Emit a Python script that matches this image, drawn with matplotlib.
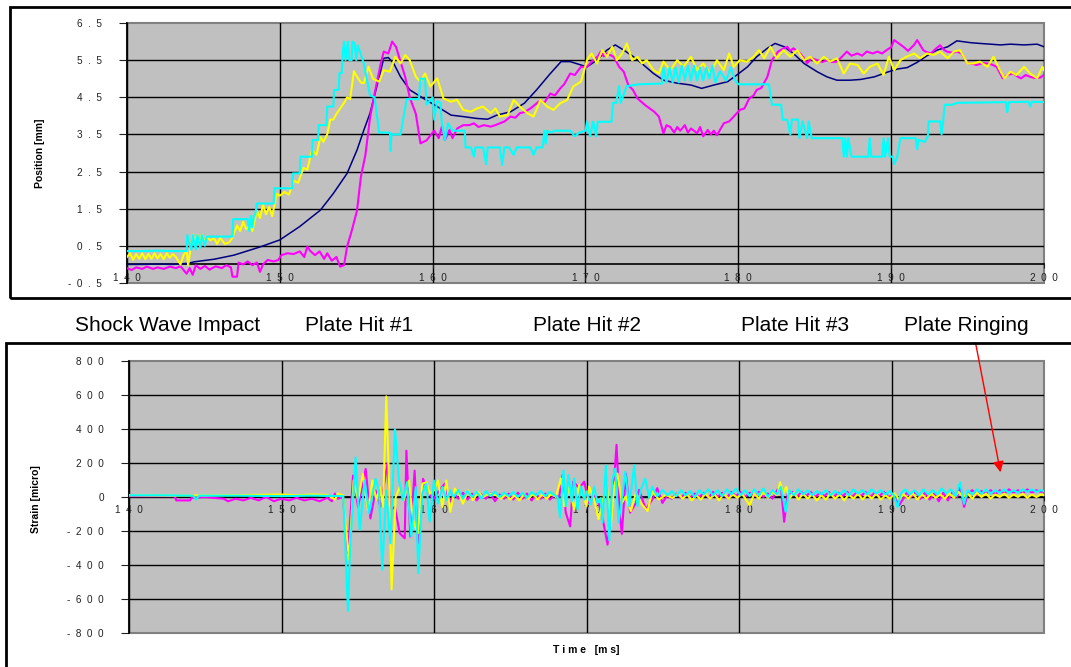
import numpy as np
import matplotlib
matplotlib.use('Agg')
import matplotlib.pyplot as plt
from matplotlib.patches import Rectangle
from matplotlib.ticker import FuncFormatter

plt.rcParams['font.family'] = ['Liberation Sans', 'DejaVu Sans']

# ---- position traces [mm] vs time [ms] ----
navy_t = [140, 141, 142, 143, 144, 144.4, 145.7, 147.0, 148.7, 150.0,
          151.3, 152.65, 153.5, 154.4, 155.05, 155.5, 155.9, 156.4, 156.8, 157.1,
          157.45, 157.9, 158.5, 159.4, 160.3, 161.2, 162.0, 162.9, 163.6, 164.2,
          165.1, 166.0, 166.8, 167.7, 168.4, 169.0, 169.7, 170.1, 170.75, 171.4,
          171.95, 172.5, 173.15, 173.8, 174.45, 175.1, 176.0, 176.9, 177.6, 178.4,
          179.3, 179.9, 180.6, 181.2, 181.9, 182.4, 183.0, 183.6, 184.3, 185.15,
          185.8, 186.45, 187.3, 188.0, 188.9, 189.7, 190.4, 191.05, 191.7, 192.35,
          193.0, 193.7, 194.3, 195.2, 195.8, 196.5, 197.15, 197.8, 198.7, 199.55, 200]
navy_v = [0.0, 0.0, 0.01, 0.0, 0.03, 0.07, 0.14, 0.25, 0.47, 0.66,
          1.02, 1.46, 1.91, 2.45, 3.08, 3.62, 4.07, 4.88, 5.55, 5.57,
          5.41, 5.05, 4.70, 4.47, 4.25, 4.02, 3.98, 3.93, 3.91, 4.02,
          4.11, 4.34, 4.70, 5.14, 5.46, 5.46, 5.37, 5.32, 5.50, 5.77,
          5.91, 5.77, 5.59, 5.37, 5.14, 4.96, 4.88, 4.83, 4.74, 4.83,
          4.92, 5.10, 5.32, 5.59, 5.82, 5.95, 5.86, 5.68, 5.41, 5.19,
          5.05, 4.96, 4.96, 4.98, 5.05, 5.17, 5.26, 5.30, 5.44, 5.62,
          5.77, 5.86, 6.02, 5.97, 5.95, 5.93, 5.91, 5.93, 5.91, 5.93, 5.86]

mag_t = [140, 140.3, 140.6, 141, 141.3, 141.7, 142, 142.4, 142.8, 143.2,
         143.5, 143.9, 144.1, 144.3, 144.5, 144.8, 145.1, 145.4, 145.8, 146.2,
         146.5, 146.8, 146.9, 147.2, 147.3, 147.6, 147.9, 148.2, 148.5, 148.7,
         148.9, 149.2, 149.6, 149.9, 150.1, 150.5, 150.9, 151.3, 151.6, 151.8,
         152.0, 152.3, 152.6, 152.9, 153.1, 153.4, 153.7, 153.95, 154.2, 154.4,
         154.7, 155.05, 155.3, 155.6, 155.9, 156.25, 156.6, 156.8, 157.1, 157.35,
         157.6, 157.9, 158.2, 158.5, 158.9, 159.2, 159.6, 160.1, 160.4, 160.6,
         160.8, 161.1, 161.3, 161.6, 162.0, 162.4, 162.7, 163.0, 163.35, 163.8,
         164.1, 164.4, 164.7, 165.1, 165.4, 165.7, 166.0, 166.4, 166.7, 167.05,
         167.3, 167.7, 168.0, 168.35, 168.6, 169.0, 169.3, 169.7, 170.1, 170.5,
         170.8, 171.0, 171.2, 171.4, 171.85, 172.2, 172.5, 172.8, 173.1, 173.4,
         173.9, 174.2, 174.5, 174.8, 175.1, 175.3, 175.55, 175.8, 176.0, 176.2,
         176.5, 176.7, 176.9, 177.1, 177.3, 177.5, 177.7, 178.0, 178.2, 178.4,
         178.6, 179.05, 179.4, 179.7, 180.1, 180.4, 180.7, 181.0, 181.2, 181.5,
         181.9, 182.2, 182.6, 182.9, 183.2, 183.4, 183.6, 184.05, 184.3, 184.5,
         184.8, 185.15, 185.5, 185.8, 186.1, 186.45, 186.8, 187.1, 187.4, 187.8,
         188.1, 188.4, 188.8, 189.1, 189.4, 189.7, 190.0, 190.2, 190.5, 190.8,
         191.1, 191.5, 191.7, 192.1, 192.3, 192.6, 192.9, 193.2, 193.45, 193.65,
         194.0, 194.3, 194.6, 195.0, 195.3, 195.6, 196.0, 196.3, 196.6, 196.9,
         197.3, 197.6, 198.0, 198.3, 198.5, 198.8, 199.1, 199.4, 199.75, 200]
mag_v = [-0.10, -0.15, -0.08, -0.12, -0.06, -0.12, -0.08, -0.12, -0.06, -0.10,
         -0.05, -0.25, -0.10, -0.28, -0.02, -0.12, -0.04, -0.14, -0.05, -0.10,
         -0.02, -0.08, -0.33, -0.33, 0.05, 0.00, 0.08, -0.02, 0.05, -0.20,
         0.00, 0.12, 0.08, 0.12, 0.25, 0.30, 0.28, 0.35, 0.20, 0.48,
         0.36, 0.25, 0.35, 0.15, 0.30, 0.10, 0.20, -0.06, -0.02, 0.48,
         0.90, 1.45, 2.35, 2.95, 3.95, 4.70, 5.40, 5.73, 5.68, 6.00,
         5.86, 5.46, 5.05, 4.50, 4.05, 3.26, 3.34, 3.60, 3.40, 3.71,
         3.35, 3.62, 3.40, 3.66, 3.75, 3.75, 3.80, 3.70, 3.75, 3.71,
         3.75, 3.80, 3.85, 3.98, 3.95, 4.07, 4.10, 4.20, 4.30, 4.42,
         4.35, 4.60, 4.55, 4.74, 4.85, 5.14, 5.10, 5.32, 5.32, 5.50,
         5.60, 5.73, 5.60, 5.68, 5.59, 5.32, 5.19, 4.83, 4.70, 4.47,
         4.29, 4.20, 4.11, 3.98, 3.53, 3.75, 3.70, 3.55, 3.70, 3.60,
         3.75, 3.55, 3.66, 3.60, 3.53, 3.70, 3.45, 3.62, 3.50, 3.60,
         3.48, 3.80, 3.85, 3.98, 4.16, 4.20, 4.46, 4.55, 4.70, 4.75,
         5.05, 5.50, 5.73, 5.80, 5.86, 5.75, 5.82, 5.68, 5.55, 5.42,
         5.55, 5.50, 5.45, 5.50, 5.45, 5.46, 5.60, 5.73, 5.62, 5.68,
         5.62, 5.73, 5.68, 5.73, 5.68, 5.77, 5.85, 6.04, 5.95, 5.86,
         5.75, 5.91, 6.04, 5.77, 5.72, 5.68, 5.80, 5.90, 5.78, 5.73,
         5.70, 5.73, 5.68, 5.42, 5.40, 5.37, 5.42, 5.41, 5.38, 5.32,
         5.01, 5.10, 5.14, 5.05, 5.01, 5.10, 5.05, 5.02, 5.03, 5.10]

yel_t = [140, 140.2, 140.4, 140.6, 140.8, 141.0, 141.2, 141.4, 141.6, 141.8,
         142.0, 142.2, 142.4, 142.6, 142.8, 143.0, 143.2, 143.5, 143.7, 143.9,
         144.0, 144.15, 144.3, 144.45, 144.6, 144.75, 144.9, 145.05, 145.2, 145.45,
         145.7, 145.9, 146.1, 146.4, 146.7, 146.9, 147.2, 147.4, 147.6, 147.8,
         148.0, 148.2, 148.5, 148.7, 148.9, 149.1, 149.3, 149.5, 149.8, 150.0,
         150.3, 150.6, 150.9, 151.2, 151.55, 151.8, 152.1, 152.4, 152.65, 152.85,
         153.1, 153.3, 153.5, 153.7, 153.95, 154.2, 154.4, 154.6, 154.85, 155.05,
         155.3, 155.5, 155.8, 156.1, 156.5, 156.8, 157.2, 157.55, 157.9, 158.2,
         158.5, 158.9, 159.2, 159.5, 159.85, 160.3, 160.7, 161.2, 161.6, 162.0,
         162.5, 162.9, 163.3, 163.8, 164.1, 164.4, 164.9, 165.3, 165.7, 166.2,
         166.6, 167.05, 167.5, 167.9, 168.35, 168.8, 169.2, 169.7, 170.1, 170.4,
         170.75, 171.1, 171.4, 171.75, 172.05, 172.4, 172.7, 173.05, 173.4, 173.7,
         174.0, 174.45, 174.8, 175.1, 175.55, 176.0, 176.4, 176.9, 177.3, 177.7,
         178.15, 178.6, 179.05, 179.4, 179.7, 180.1, 180.55, 181.0, 181.35, 181.7,
         182.1, 182.5, 182.95, 183.4, 183.85, 184.3, 184.7, 185.15, 185.6, 186.0,
         186.45, 186.9, 187.3, 187.8, 188.2, 188.6, 189.1, 189.5, 189.85, 190.2,
         190.6, 191.0, 191.5, 191.9, 192.35, 192.8, 193.2, 193.7, 194.1, 194.5,
         195.0, 195.4, 195.8, 196.3, 196.7, 197.05, 197.4, 197.8, 198.2, 198.7,
         199.1, 199.55, 199.9, 200]
yel_v = [0.20, 0.30, 0.12, 0.28, 0.15, 0.30, 0.14, 0.28, 0.15, 0.30,
         0.16, 0.28, 0.14, 0.30, 0.18, 0.28, 0.20, 0.00, 0.25, 0.38,
         -0.02, 0.40, 0.80, 0.55, 0.80, 0.55, 0.80, 0.60, 0.75, 0.65,
         0.70, 0.55, 0.72, 0.55, 0.60, 0.72, 1.05, 0.90, 1.15, 0.95,
         1.05, 0.90, 1.45, 1.25, 1.60, 1.35, 1.55, 1.30, 1.90, 1.85,
         1.95, 1.88, 2.25, 2.20, 2.60, 2.55, 3.08, 2.95, 3.43, 3.30,
         3.50, 3.90, 3.90, 4.05, 4.20, 4.35, 4.50, 4.45, 5.20, 5.05,
         4.90, 4.88, 5.32, 5.00, 4.92, 5.23, 5.19, 5.59, 5.41, 5.64,
         5.50, 5.05, 4.92, 5.14, 4.79, 5.01, 4.47, 4.38, 4.43, 4.16,
         4.11, 4.20, 4.25, 4.07, 4.20, 3.98, 4.02, 4.43, 4.25, 4.07,
         3.98, 4.43, 4.25, 4.16, 4.34, 4.43, 4.79, 4.92, 5.50, 5.68,
         5.41, 5.77, 5.59, 5.86, 5.50, 5.68, 5.95, 5.50, 5.59, 5.41,
         5.50, 5.23, 5.14, 5.46, 5.23, 5.50, 5.32, 5.59, 5.23, 5.41,
         5.14, 5.50, 5.23, 5.68, 5.32, 5.50, 5.46, 5.59, 5.77, 5.55,
         5.86, 5.55, 5.77, 5.59, 5.77, 5.50, 5.59, 5.41, 5.59, 5.46,
         5.55, 5.14, 5.41, 5.37, 5.14, 5.32, 5.41, 5.10, 5.59, 5.23,
         5.50, 5.59, 5.68, 5.55, 5.68, 5.64, 5.73, 5.55, 5.73, 5.77,
         5.41, 5.41, 5.46, 5.32, 5.59, 5.28, 5.01, 5.19, 5.10, 5.32,
         5.14, 5.01, 5.32, 5.23]

cyan_t = [140, 141, 142, 143, 143.9, 143.95, 144.2, 144.3, 144.5, 144.6,
          144.8, 144.9, 145.1, 145.2, 146.0, 146.9, 146.95, 147.5, 147.9, 148.0,
          148.1, 148.2, 148.3, 148.4, 148.5, 149.6, 149.65, 150.8, 150.85, 151.3,
          151.35, 152.1, 152.15, 152.5, 152.55, 153.05, 153.1, 153.5, 153.55, 153.85,
          153.9, 154.05, 154.1, 154.2, 154.3, 154.45, 154.55, 154.7, 154.75, 154.9,
          155.0, 155.1, 155.5, 155.9, 156.2, 156.5, 157.2, 157.25, 157.3, 157.9,
          158.3, 159.1, 159.2, 159.5, 159.6, 160.0, 160.1, 160.3, 160.5, 160.6,
          160.8, 161.0, 161.3, 162.1, 162.15, 162.5, 162.7, 162.8, 163.3, 163.5,
          163.6, 164.4, 164.55, 164.7, 165.0, 165.3, 165.5, 166.0, 166.4, 166.6,
          166.8, 167.2, 167.3, 167.4, 167.5, 167.7, 168.0, 169.0, 169.3, 169.6,
          170.0, 170.1, 170.3, 170.5, 170.7, 170.8, 171.7, 171.8, 172.0, 172.2,
          172.3, 172.7, 173.5, 175.0, 175.1, 175.3, 175.5, 175.7, 175.9, 176.1,
          176.3, 176.5, 176.7, 176.9, 177.1, 177.3, 177.5, 177.7, 177.9, 178.1,
          178.3, 178.5, 178.8, 179.2, 179.5, 179.8, 180.0, 182.0, 182.2, 182.8,
          182.9, 183.2, 183.4, 183.5, 183.9, 184.0, 184.2, 184.5, 184.6, 184.8,
          185.2, 186.8, 186.9, 187.0, 187.1, 187.2, 187.4, 188.5, 188.6, 188.7,
          189.4, 189.5, 189.6, 189.8, 189.9, 190.1, 190.2, 190.4, 190.6, 191.6,
          191.7, 191.8, 192.2, 192.4, 192.45, 193.2, 193.3, 193.4, 193.5, 194.0,
          194.3, 197.5, 197.6, 197.7, 199.0, 199.1, 199.2, 200]
cyan_v = [0.36, 0.36, 0.37, 0.36, 0.36, 0.79, 0.39, 0.79, 0.40, 0.79,
          0.45, 0.79, 0.50, 0.75, 0.75, 0.75, 1.22, 1.22, 1.22, 0.90,
          1.30, 1.00, 1.30, 1.35, 1.64, 1.64, 2.05, 2.05, 2.45, 2.45,
          2.90, 2.90, 3.35, 3.35, 3.75, 3.75, 4.25, 4.25, 4.70, 4.70,
          5.15, 5.15, 5.60, 6.00, 5.50, 6.00, 5.50, 5.50, 6.00, 5.95,
          5.50, 5.90, 5.40, 4.55, 4.50, 3.55, 3.55, 3.05, 3.50, 3.50,
          4.45, 4.45, 5.00, 5.00, 4.30, 4.50, 3.90, 4.40, 4.35, 3.80,
          3.35, 3.80, 3.60, 3.60, 3.15, 3.15, 2.90, 3.15, 3.15, 2.70,
          3.15, 3.15, 2.68, 3.15, 3.15, 2.95, 3.15, 3.15, 3.15, 2.95,
          3.15, 3.15, 3.60, 3.25, 3.60, 3.55, 3.60, 3.60, 3.45, 3.55,
          3.60, 3.85, 3.45, 3.85, 3.45, 3.84, 3.84, 4.35, 4.35, 4.80,
          4.35, 4.80, 4.85, 4.87, 5.30, 4.90, 5.30, 4.90, 5.30, 4.90,
          5.35, 4.95, 5.35, 4.95, 5.35, 4.95, 5.30, 4.95, 5.30, 5.00,
          5.35, 4.90, 5.20, 4.95, 5.30, 4.95, 4.85, 4.85, 4.30, 4.30,
          3.90, 3.90, 3.50, 3.90, 3.90, 3.40, 3.85, 3.40, 3.85, 3.40,
          3.40, 3.40, 2.90, 3.40, 2.90, 3.40, 2.90, 2.90, 3.40, 2.90,
          2.90, 3.40, 2.90, 3.40, 2.90, 2.90, 2.70, 2.90, 3.40, 3.40,
          3.10, 3.35, 3.30, 3.45, 3.85, 3.85, 3.50, 3.85, 4.30, 4.30,
          4.35, 4.37, 4.10, 4.37, 4.38, 4.25, 4.38, 4.37]

# ---- strain traces [micro] vs time [ms] ----
smag_t = [140, 142, 143.0, 143.1, 144.0, 144.1, 145, 145.5, 146.2, 146.5,
          147, 147.5, 148, 148.5, 149, 149.5, 150, 150.5, 151, 151.5,
          152, 152.5, 153, 153.3, 153.5, 153.7, 154.03, 154.36, 154.69, 155.02,
          155.52, 155.83, 156.17, 156.48, 156.77, 156.95, 157.14, 157.44, 157.75, 158.08,
          158.19, 158.45, 158.73, 158.95, 159.28, 159.61, 159.93, 160.26, 160.70, 161.03,
          161.3, 161.6, 161.9, 162.2, 162.5, 162.8, 163.1, 163.4, 163.7, 164.0,
          164.3, 164.6, 164.9, 165.2, 165.5, 165.8, 166.1, 166.4, 166.7, 167.0,
          167.3, 167.6, 167.9, 168.21, 168.43, 168.64, 168.93, 169.13, 169.52, 169.85,
          170.17, 170.50, 170.83, 171.07, 171.38, 171.60, 171.81, 171.97, 172.19, 172.32,
          172.58, 172.86, 173.24, 173.45, 173.89, 174.31, 174.64, 174.98, 175.3, 175.6,
          175.9, 176.2, 176.5, 176.8, 177.1, 177.4, 177.7, 178.0, 178.3, 178.6,
          178.9, 179.2, 179.5, 179.8, 180.1, 180.4, 180.7, 181.0, 181.3, 181.6,
          181.9, 182.2, 182.5, 182.75, 182.96, 183.2, 183.5, 183.8, 184.1, 184.4,
          184.7, 185.0, 185.3, 185.6, 185.9, 186.2, 186.5, 186.8, 187.1, 187.4,
          187.7, 188.0, 188.3, 188.6, 188.9, 189.2, 189.5, 189.8, 190.1, 190.5,
          190.7, 191.0, 191.3, 191.6, 191.9, 192.2, 192.5, 192.8, 193.1, 193.4,
          193.7, 194.0, 194.3, 194.5, 194.76, 195.0, 195.3, 195.6, 195.9, 196.2,
          196.5, 196.8, 197.1, 197.4, 197.7, 198.0, 198.3, 198.6, 198.9, 199.2,
          199.5, 199.8, 200]
smag_v = [5, 5, 5, -20, -20, -5, 0, -5, -10, -25,
          -10, -20, -5, -20, 0, -25, -10, -20, -5, -20,
          -10, -25, -5, -25, 20, -10, 0, -330, 126, -58,
          165, -126, 39, -58, 97, 200, -78, -58, -213, -243,
          272, -233, 155, -272, 107, 39, -19, 29, 78, -29,
          20, -10, 25, -15, 20, -20, 15, -10, 20, -25,
          15, -10, 20, -15, 25, -10, 20, -20, 15, -10,
          20, -15, 10, 0, 129, -92, -173, 90, 52, 90,
          -35, 4, -44, -131, -280, -111, 100, 307, -111, -217,
          138, -92, -35, 42, -73, -15, 52, -35, 10, -10,
          20, -5, 25, -5, 20, 0, 25, -5, 30, 0,
          25, -5, 30, 5, 30, 0, 25, 5, 30, 0,
          20, -10, 40, 60, -146, 20, 30, 0, 30, 5,
          30, 0, 25, 5, 30, 0, 25, 5, 30, 0,
          25, 5, 30, 0, 25, 5, 30, 0, 10, -48,
          -20, 25, 0, 30, -10, 25, -15, 20, -25, 25,
          -20, 30, 0, 60, -58, 20, 40, 10, 35, 20,
          40, 15, 40, 20, 45, 25, 40, 20, 45, 25,
          40, 30, 35]

syel_t = [140, 143, 146, 148, 150, 151, 152, 153, 153.5, 153.7,
          154.03, 154.43, 154.73, 155.02, 155.34, 155.67, 155.96, 156.22, 156.44, 156.66,
          156.87, 157.05, 157.22, 157.49, 157.75, 158.01, 158.36, 158.62, 158.95, 159.23,
          159.50, 159.72, 160.0, 160.26, 160.55, 160.81, 161.07, 161.36, 161.64, 161.90,
          162.23, 162.56, 162.89, 163.21, 163.65, 164.09, 164.4, 164.7, 165.0, 165.3,
          165.6, 165.9, 166.2, 166.5, 166.8, 167.1, 167.4, 167.7, 167.99, 168.32,
          168.54, 168.86, 169.19, 169.52, 169.85, 170.0, 170.17, 170.50, 170.79, 171.05,
          171.31, 171.60, 171.81, 172.03, 172.32, 172.58, 172.91, 173.24, 173.56, 174.00,
          174.31, 174.75, 175.20, 175.64, 176.0, 176.3, 176.6, 176.9, 177.2, 177.5,
          177.8, 178.1, 178.4, 178.7, 179.0, 179.3, 179.6, 179.9, 180.2, 180.45,
          180.7, 181.0, 181.3, 181.6, 181.9, 182.2, 182.5, 182.7, 182.9, 183.1,
          183.3, 183.6, 183.9, 184.2, 184.5, 184.8, 185.1, 185.4, 185.7, 186.0,
          186.3, 186.6, 186.9, 187.2, 187.5, 187.8, 188.1, 188.4, 188.7, 189.0,
          189.3, 189.6, 189.9, 190.2, 190.5, 190.8, 191.1, 191.4, 191.7, 192.0,
          192.3, 192.6, 192.9, 193.2, 193.5, 193.8, 194.1, 194.4, 194.7, 195.0,
          195.3, 195.6, 195.9, 196.2, 196.5, 196.8, 197.1, 197.4, 197.7, 198.0,
          198.3, 198.6, 198.9, 199.2, 199.5, 199.8, 200]
syel_v = [10, 8, 10, 12, 15, 10, 15, 12, -15, 20,
          10, -369, 97, -19, 136, -78, 97, -19, 58, -58,
          592, 97, -543, 0, 58, -19, 97, -136, -213, 78,
          87, 19, 39, 97, -58, 97, -87, 49, 19, -39,
          39, -19, 29, 0, 19, 10, -10, 15, -15, 10,
          -20, 15, -10, 20, -15, 15, -10, 20, 0, 109,
          -54, 61, -73, 71, -6, -54, 61, -15, -131, -35,
          90, -169, 61, 138, -35, 4, -83, 23, -35, -83,
          33, -15, 13, -6, 20, -10, 15, -20, 10, -15,
          20, -10, 15, -20, 20, -10, 15, -5, 20, -15,
          -48, 20, -10, 30, -5, 30, 10, 87, 20, 60,
          -10, 25, -15, 20, -10, 15, -20, 10, -15, 20,
          -10, 15, -20, 15, -10, 20, -15, 15, -10, 20,
          -15, 10, -10, 20, -15, 15, -10, 20, -15, 15,
          -10, 20, -5, 15, -10, 20, -5, 30, 0, 20,
          -10, 25, 0, 20, -10, 15, 0, 20, -5, 15,
          0, 20, -5, 15, 0, 15, 10]

scyan_t = [140, 142, 144.2, 144.4, 144.6, 147, 150, 152, 154.05, 154.36,
           154.5, 154.86, 155.13, 155.45, 155.74, 156.17, 156.39, 156.61, 156.87, 157.14,
           157.44, 157.70, 157.97, 158.23, 158.51, 158.80, 158.97, 159.23, 159.50, 159.72,
           160.0, 160.26, 160.55, 160.81, 161.07, 161.3, 161.6, 161.9, 162.2, 162.5,
           162.8, 163.1, 163.4, 163.7, 164.0, 164.3, 164.6, 164.9, 165.2, 165.5,
           165.8, 166.1, 166.4, 166.7, 167.0, 167.3, 167.6, 167.9, 168.10, 168.27,
           168.49, 168.64, 168.82, 169.04, 169.19, 169.41, 169.63, 169.85, 170.0, 170.28,
           170.50, 170.72, 170.94, 171.05, 171.27, 171.49, 171.70, 171.88, 172.10, 172.40,
           172.54, 172.80, 173.13, 173.34, 173.56, 173.85, 174.11, 174.31, 174.64, 174.98,
           175.3, 175.6, 175.9, 176.2, 176.5, 176.8, 177.1, 177.4, 177.7, 178.0,
           178.3, 178.6, 178.9, 179.2, 179.5, 179.8, 180.1, 180.4, 180.7, 181.0,
           181.3, 181.6, 181.9, 182.2, 182.5, 182.75, 183.06, 183.3, 183.6, 183.9,
           184.2, 184.5, 184.8, 185.1, 185.4, 185.7, 186.0, 186.3, 186.6, 186.9,
           187.2, 187.5, 187.8, 188.1, 188.4, 188.7, 189.0, 189.3, 189.6, 189.9,
           190.15, 190.4, 190.6, 190.9, 191.2, 191.5, 191.8, 192.1, 192.4, 192.7,
           193.0, 193.3, 193.6, 193.9, 194.2, 194.5, 194.75, 195.0, 195.3, 195.6,
           195.9, 196.2, 196.5, 196.8, 197.1, 197.4, 197.7, 198.0, 198.3, 198.6,
           198.9, 199.2, 199.5, 199.8, 200]
scyan_v = [10, 10, 8, -15, 8, 8, 5, 8, 5, -670,
           -300, 233, -194, 97, -97, 107, 39, -427, 39, -272,
           398, 97, -19, 87, -233, 58, -447, 19, 78, -145,
           97, -39, 58, -19, 39, 0, 40, -10, 35, 0,
           30, -10, 35, 5, 30, 0, 25, 5, 30, 0,
           25, -5, 30, 10, 35, 5, 30, 10, 0, -121,
           157, -54, 129, -25, 109, -73, 61, -15, 33, -44,
           61, -35, -6, -150, 186, -255, 100, 167, -150, 42,
           148, -54, 186, -54, 42, 109, -6, 61, 4, 42,
           10, 35, 5, 40, 10, 35, 0, 40, 15, 45,
           10, 40, 5, 45, 15, 50, 10, 40, 5, 45,
           10, 50, 0, 40, 15, 60, -87, 40, 10, 45,
           15, 40, 10, 35, 15, 40, 10, 35, 15, 40,
           10, 45, 20, 40, 15, 45, 20, 40, 15, 35,
           10, -60, 20, 45, 15, 40, 10, 45, 15, 40,
           15, 50, 20, 45, 5, 87, -40, 40, 15, 45,
           20, 45, 20, 40, 25, 45, 25, 40, 25, 45,
           30, 45, 30, 40, 35]

x_ticks = [140, 150, 160, 170, 180, 190, 200]
pos_ticks = [-0.5, 0.5, 1.5, 2.5, 3.5, 4.5, 5.5, 6.5]
strain_ticks = [-800, -600, -400, -200, 0, 200, 400, 600, 800]
events = ['Shock Wave Impact', 'Plate Hit #1', 'Plate Hit #2', 'Plate Hit #3', 'Plate Ringing']

NAVY, MAG, YEL, CYAN = '#000080', '#FF00FF', '#FFFF00', '#00FFFF'
W, H = 1071, 667


def spaced(fmt):
    # excel style letter spaced tick labels
    return FuncFormatter(lambda v, pos: '  '.join(fmt % v))


def style_axes(ax, yticks, yfmt):
    ax.set_facecolor('#C0C0C0')
    ax.patch.set_edgecolor('#808080')
    ax.patch.set_linewidth(1.5)
    ax.spines['top'].set_visible(False)
    ax.spines['right'].set_visible(False)
    ax.spines['bottom'].set_position(('data', 0))
    ax.spines['left'].set_linewidth(1.2)
    ax.spines['bottom'].set_linewidth(1.2)
    ax.set_xlim(140, 200)
    ax.set_ylim(yticks[0], yticks[-1])
    ax.set_xticks(x_ticks)
    ax.set_yticks(yticks)
    ax.xaxis.set_major_formatter(spaced('%d'))
    ax.yaxis.set_major_formatter(spaced(yfmt))
    ax.tick_params(axis='y', direction='out', length=6, pad=12, labelsize=7.2, colors='#222222')
    ax.tick_params(axis='x', direction='out', length=3, pad=3, labelsize=7.2, colors='#222222')
    ax.grid(True, color='black', linewidth=1)
    ax.set_axisbelow(True)
    ax.get_ygridlines()[0].set_visible(False)
    ax.get_ygridlines()[-1].set_visible(False)
    ax.get_xgridlines()[-1].set_visible(False)


fig = plt.figure(figsize=(W / 100, H / 100), dpi=100)

# top: position
ax1 = fig.add_axes([127 / W, 1 - 283 / H, (1044 - 127) / W, (283 - 23) / H])
style_axes(ax1, pos_ticks, '%.1f')
ax1.plot(navy_t, navy_v, color=NAVY, lw=1.1, zorder=3)
ax1.plot(mag_t, mag_v, color=MAG, lw=1.5, zorder=3)
ax1.plot(yel_t, yel_v, color=YEL, lw=1.5, zorder=3)
ax1.plot(cyan_t, cyan_v, color=CYAN, lw=1.5, zorder=3)
fig.text(40 / W, 1 - 153 / H, 'Position [mm]', rotation=90, ha='center', va='center',
         fontsize=7.5, fontweight='bold')

# bottom: strain
ax2 = fig.add_axes([129 / W, 1 - 633 / H, (1044 - 129) / W, (633 - 361) / H])
style_axes(ax2, strain_ticks, '%d')
ax2.plot(smag_t, smag_v, color=MAG, lw=1.5, zorder=3)
ax2.plot(syel_t, syel_v, color=YEL, lw=1.5, zorder=3)
ax2.plot(scyan_t, scyan_v, color=CYAN, lw=1.5, zorder=3)
fig.text(36 / W, 1 - 499 / H, 'Strain [micro]', rotation=90, ha='center', va='center',
         fontsize=7.5, fontweight='bold')
fig.text(586 / W, 1 - 650 / H, 'T i m e   [m s]', ha='center', va='center',
         fontsize=7.5, fontweight='bold')

# event labels between the charts
ev_x = [75, 305, 533, 741, 904]
for name, x in zip(events, ev_x):
    fig.text(x / W, 1 - 331 / H, name, ha='left', va='baseline', fontsize=15)

ax2.annotate('', xy=(1001 / W, 1 - 475 / H), xytext=(975 / W, 1 - 340 / H),
             xycoords='figure fraction', textcoords='figure fraction',
             arrowprops=dict(arrowstyle='-|>', color='red', lw=1, mutation_scale=16))

# chart frames
fig.add_artist(Rectangle((10 / W, 1 - 298 / H), 1.1, (298 - 7) / H, transform=fig.transFigure,
                         fill=False, edgecolor='black', lw=2))
fig.add_artist(Rectangle((6 / W, -0.1), 1.1, 0.1 + 1 - 343 / H, transform=fig.transFigure,
                         fill=False, edgecolor='black', lw=2))

fig.savefig('out.png', dpi=100)
